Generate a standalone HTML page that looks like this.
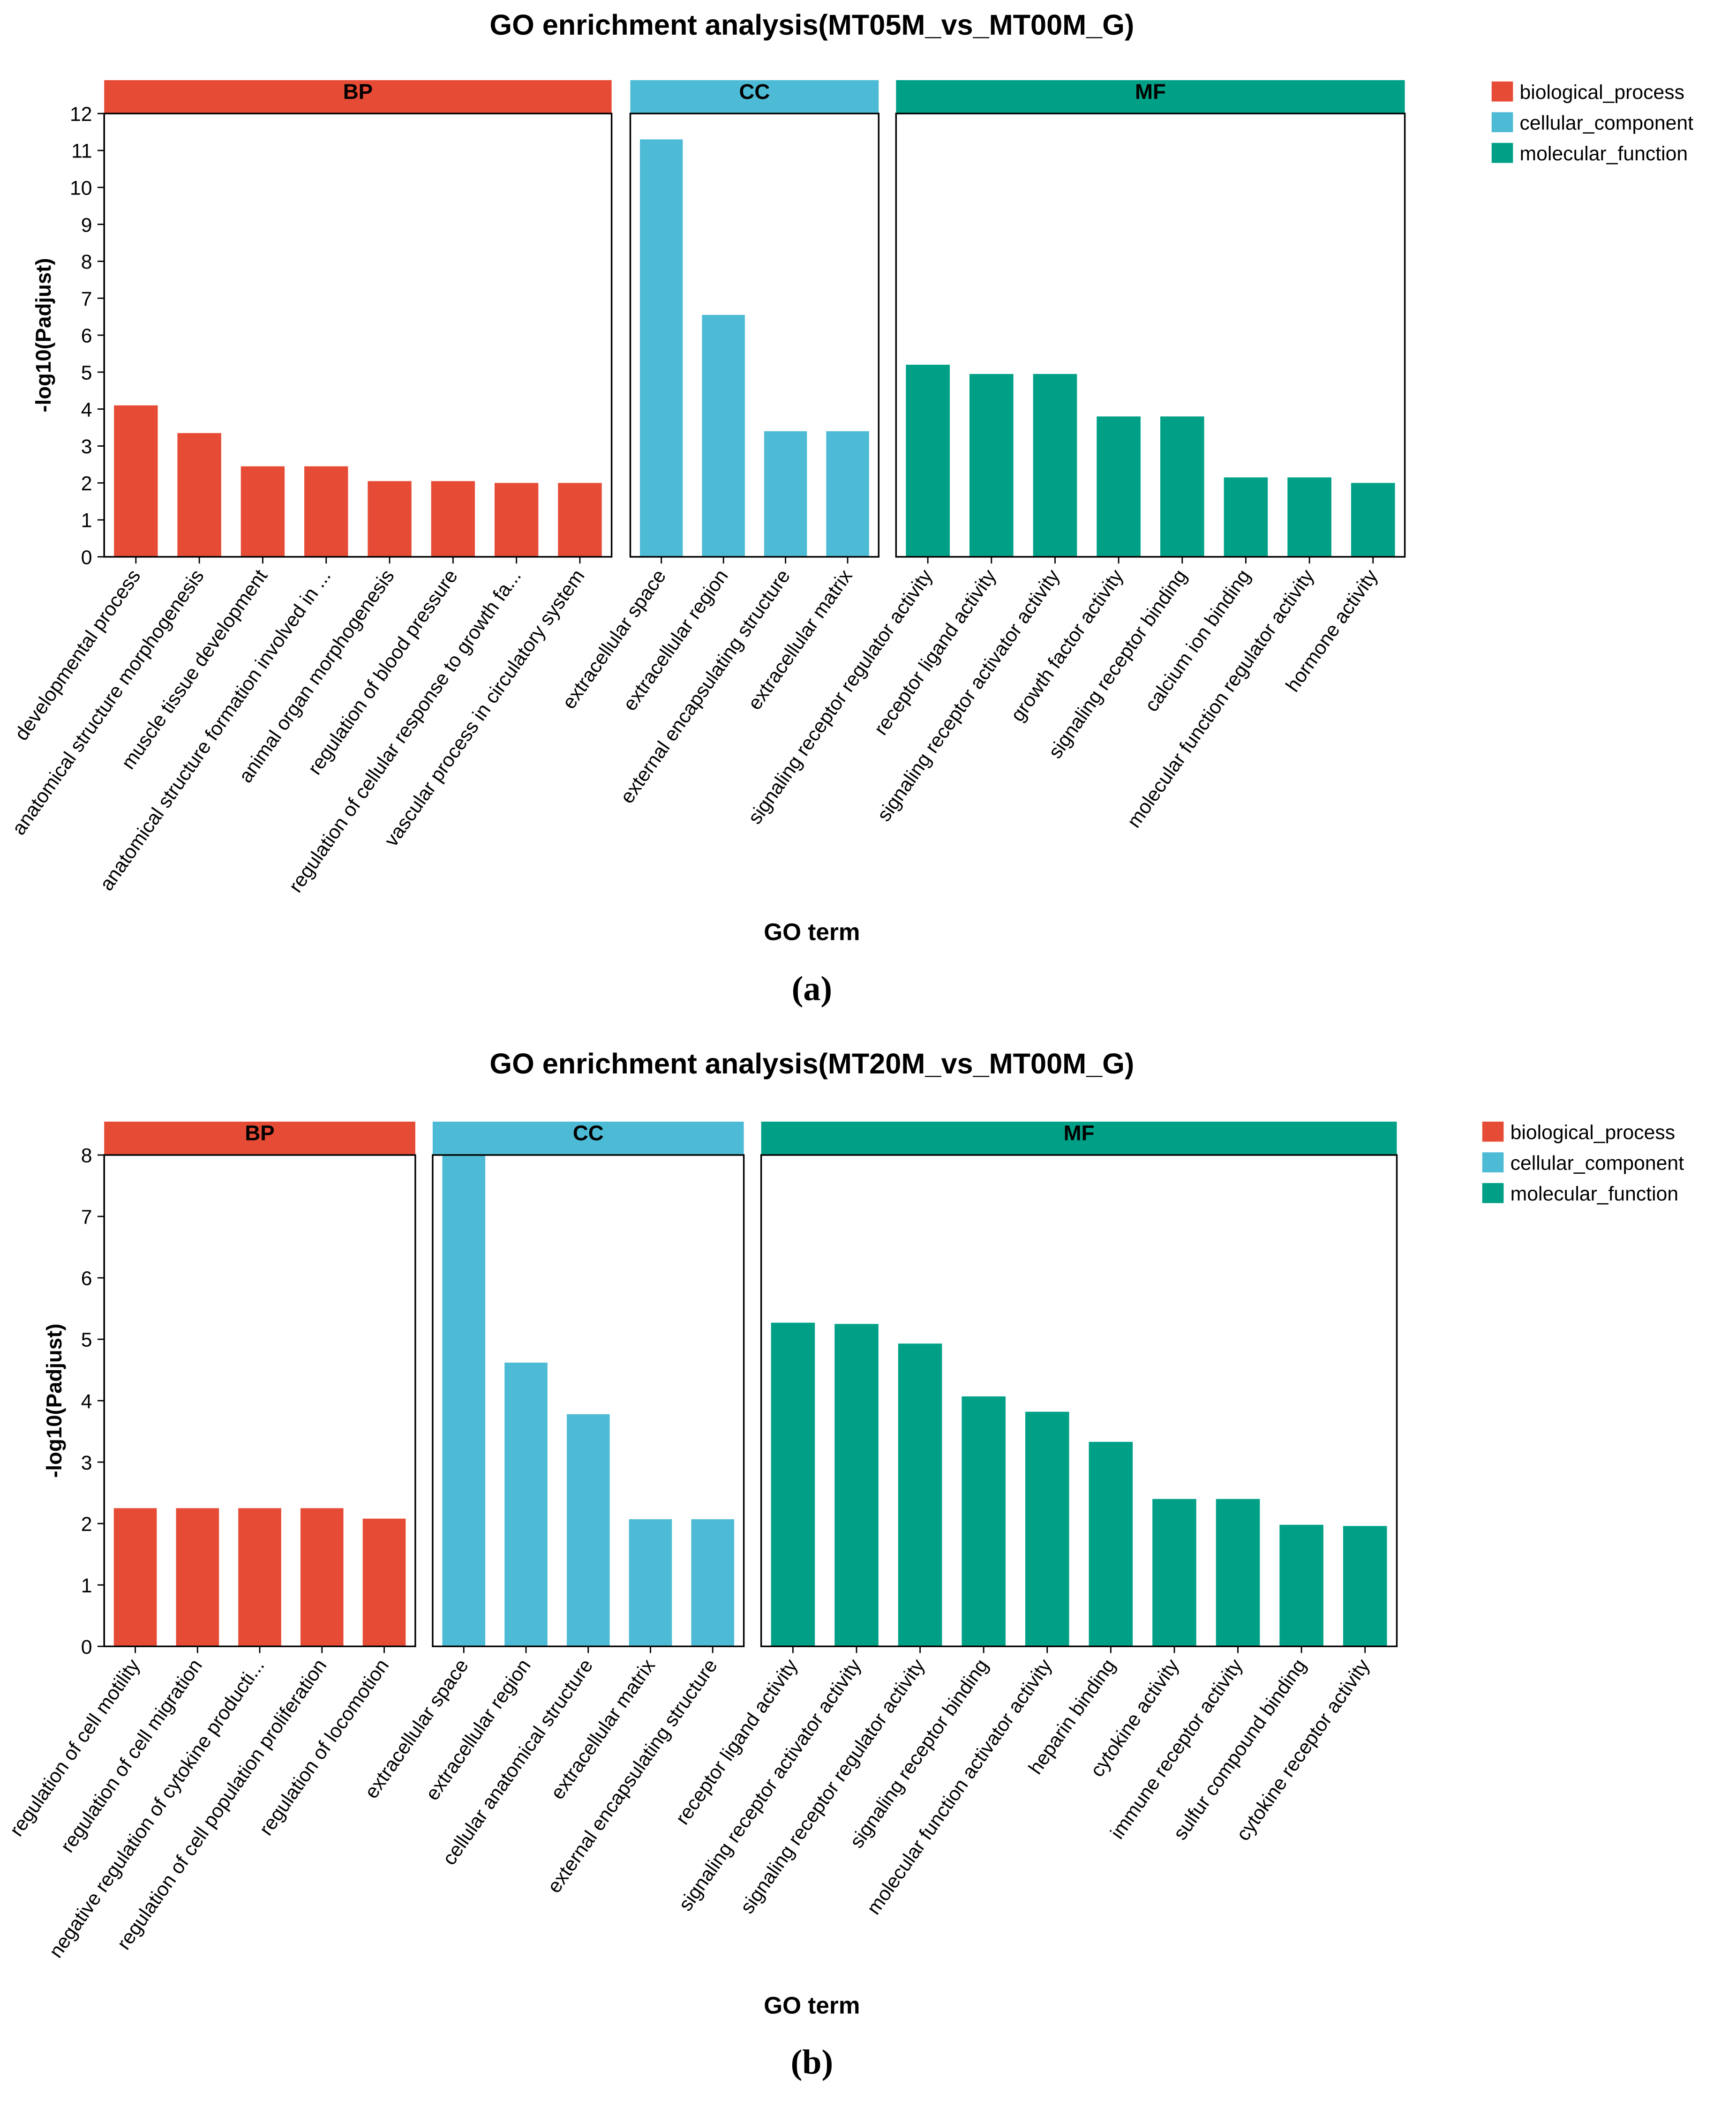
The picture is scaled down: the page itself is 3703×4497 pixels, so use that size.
<!DOCTYPE html>
<html><head><meta charset="utf-8">
<style>
html,body{margin:0;padding:0;background:#fff;}
svg{display:block;font-family:"Liberation Sans",Arial,sans-serif;}
</style></head>
<body>
<svg id="root" width="3703" height="4497" viewBox="0 0 1300 1578.7" xmlns="http://www.w3.org/2000/svg"></svg>
<script>
// ---- Chart (a) data ----
const aBPterms = ["developmental process","anatomical structure morphogenesis","muscle tissue development","anatomical structure formation involved in ...","animal organ morphogenesis","regulation of blood pressure","regulation of cellular response to growth fa...","vascular process in circulatory system"];
const aBPvals = [4.1,3.35,2.45,2.45,2.05,2.05,2.0,2.0];
const aCCterms = ["extracellular space","extracellular region","external encapsulating structure","extracellular matrix"];
const aCCvals = [11.3,6.55,3.4,3.4];
const aMFterms = ["signaling receptor regulator activity","receptor ligand activity","signaling receptor activator activity","growth factor activity","signaling receptor binding","calcium ion binding","molecular function regulator activity","hormone activity"];
const aMFvals = [5.2,4.95,4.95,3.8,3.8,2.15,2.15,2.0];
const aTicks = [0,1,2,3,4,5,6,7,8,9,10,11,12];
// ---- Chart (b) data ----
const bBPterms = ["regulation of cell motility","regulation of cell migration","negative regulation of cytokine producti...","regulation of cell population proliferation","regulation of locomotion"];
const bBPvals = [2.25,2.25,2.25,2.25,2.08];
const bCCterms = ["extracellular space","extracellular region","cellular anatomical structure","extracellular matrix","external encapsulating structure"];
const bCCvals = [8.0,4.62,3.78,2.07,2.07];
const bMFterms = ["receptor ligand activity","signaling receptor activator activity","signaling receptor regulator activity","signaling receptor binding","molecular function activator activity","heparin binding","cytokine activity","immune receptor activity","sulfur compound binding","cytokine receptor activity"];
const bMFvals = [5.27,5.25,4.93,4.07,3.82,3.33,2.4,2.4,1.98,1.96];
const bTicks = [0,1,2,3,4,5,6,7,8];

const NS="http://www.w3.org/2000/svg";
const root=document.getElementById('root');
const COL={BP:"#e64b35",CC:"#4dbbd5",MF:"#00a087"};
function mk(tag,attrs,parent,text){const e=document.createElementNS(NS,tag);for(const k in attrs)e.setAttribute(k,attrs[k]);if(text!==undefined)e.textContent=text;(parent||root).appendChild(e);return e;}

function drawChart(cfg){
  const g=mk('g',{});
  
  
  const t=mk('text',{x:cfg.titleX,y:cfg.titleY,'font-size':21.5,'font-weight':'bold','text-anchor':'middle'},g,cfg.title);
  
  
  const y=v=>cfg.y0-(v/cfg.ymax)*(cfg.y0-cfg.y1);
  const ax=mk('line',{x1:cfg.axisX,x2:cfg.axisX,y1:cfg.y1,y2:cfg.y0,stroke:'#000','stroke-width':1.2},g);
  
  
  cfg.ticks.forEach(tv=>{
    mk('line',{x1:cfg.axisX-5,x2:cfg.axisX,y1:y(tv),y2:y(tv),stroke:'#000','stroke-width':1},g);
    const tl=mk('text',{x:cfg.axisX-9,y:y(tv)+5.5,'font-size':15,'text-anchor':'end'},g,String(tv));
    
    
  });
  const yt=mk('text',{transform:`translate(${cfg.yTitleX},${(cfg.y0+cfg.y1)/2}) rotate(-90)`,'font-size':16,'font-weight':'bold','text-anchor':'middle'},g,'-log10(Padjust)');
  
  
  cfg.panels.forEach(p=>{
    const pg=mk('g',{},g);
    
    
    const st=mk('rect',{x:p.x0,y:cfg.stripY,width:p.x1-p.x0,height:cfg.y1-cfg.stripY,fill:COL[p.key]},pg);
    
    
    const sl=mk('text',{x:(p.x0+p.x1)/2,y:cfg.stripY+14,'font-size':16,'font-weight':'bold','text-anchor':'middle'},pg,p.key);
    
    
    const n=p.vals.length, step=(p.x1-p.x0)/n, bw=step*0.69;
    p.vals.forEach((v,i)=>{
      const cx=p.x0+step*(i+0.5);
      const top=Math.max(y(v),cfg.y1);
      const b=mk('rect',{x:cx-bw/2,y:top,width:bw,height:cfg.y0-top,fill:COL[p.key]},pg);
      
      
      mk('line',{x1:cx,x2:cx,y1:cfg.y0,y2:cfg.y0+5,stroke:'#000','stroke-width':1},pg);
      const lab=mk('text',{transform:`translate(${cx+4},${cfg.y0+14}) rotate(-55)`,'font-size':14.8,'text-anchor':'end'},pg,p.terms[i]);
      
      
    });
    const fr=mk('rect',{x:p.x0,y:cfg.y1,width:p.x1-p.x0,height:cfg.y0-cfg.y1,fill:'none',stroke:'#000','stroke-width':1.2},pg);
    
    
  });
  const xt=mk('text',{x:cfg.titleX,y:cfg.xTitleY,'font-size':18,'font-weight':'bold','text-anchor':'middle'},g,'GO term');
  
  
  const cap=mk('text',{x:cfg.titleX,y:cfg.capY,'font-size':26,'font-weight':'bold','text-anchor':'middle','font-family':'"Liberation Serif",serif'},g,cfg.cap);
  
  
  const names=[['biological_process','BP'],['cellular_component','CC'],['molecular_function','MF']];
  names.forEach((nm,i)=>{
    const ly=cfg.legY+i*23;
    const sw=mk('rect',{x:cfg.legX,y:ly,width:16,height:15,fill:COL[nm[1]]},g);
    
    
    const lt=mk('text',{x:cfg.legX+21,y:ly+13,'font-size':15},g,nm[0]);
    
    
  });
}

drawChart({id:'chart-a',title:'GO enrichment analysis(MT05M_vs_MT00M_G)',titleX:608,titleY:26,
  stripY:60,y1:85,y0:417,ymax:12,ticks:aTicks,axisX:78,yTitleX:38,xTitleY:704,capY:749,cap:'(a)',
  legX:1117,legY:61,
  panels:[{key:'BP',x0:78,x1:458,vals:aBPvals,terms:aBPterms},{key:'CC',x0:472,x1:658,vals:aCCvals,terms:aCCterms},{key:'MF',x0:671,x1:1052,vals:aMFvals,terms:aMFterms}]});
drawChart({id:'chart-b',title:'GO enrichment analysis(MT20M_vs_MT00M_G)',titleX:608,titleY:804,
  stripY:840,y1:865,y0:1233,ymax:8,ticks:bTicks,axisX:78,yTitleX:46,xTitleY:1508,capY:1553,cap:'(b)',
  legX:1110,legY:840,
  panels:[{key:'BP',x0:78,x1:311,vals:bBPvals,terms:bBPterms},{key:'CC',x0:324,x1:557,vals:bCCvals,terms:bCCterms},{key:'MF',x0:570,x1:1046,vals:bMFvals,terms:bMFterms}]});
</script>
</body></html>
